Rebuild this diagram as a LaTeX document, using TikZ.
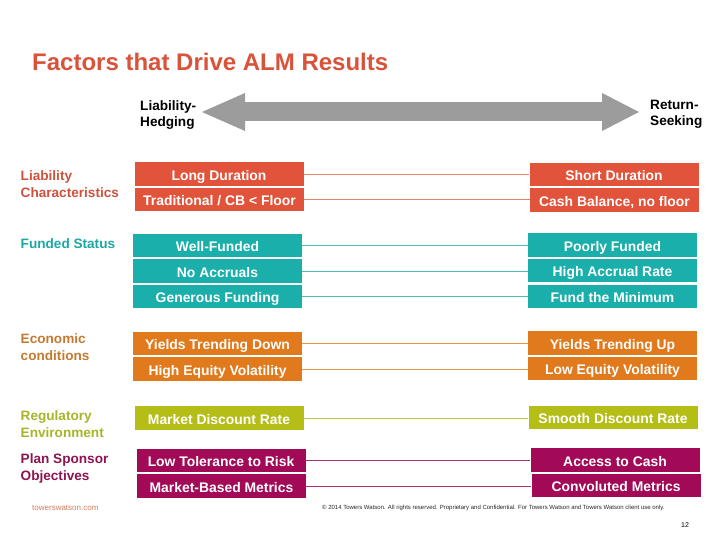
\documentclass[tikz,border=0pt]{standalone}
\usepackage{fontspec}
\setsansfont{Liberation Sans}
\usepackage{xcolor}
\usetikzlibrary{arrows.meta, positioning}

\definecolor{twtitle}{HTML}{D9533B}
\definecolor{twred}{HTML}{E1533A}
\definecolor{twredtxt}{HTML}{CC523D}
\definecolor{twteal}{HTML}{1AAFAA}
\definecolor{twtealtxt}{HTML}{1BA8A3}
\definecolor{tworange}{HTML}{E07A1D}
\definecolor{tworangetxt}{HTML}{C47A30}
\definecolor{twolive}{HTML}{B4BE17}
\definecolor{twolivetxt}{HTML}{A7B42A}
\definecolor{twplum}{HTML}{A20A58}
\definecolor{twplumtxt}{HTML}{8D1451}
\definecolor{twgray}{HTML}{9C9C9C}
\definecolor{twweb}{HTML}{CF7D5E}

\begin{document}
\begin{tikzpicture}[
  x=1pt, y=-1pt,
  % Factor boxes (both ends of the scale)
  factor/.style={rectangle, text=white, align=center, inner sep=0pt,
    font=\sffamily\bfseries\fontsize{13.9}{16}\selectfont,
    text height=12.6pt, text depth=0pt,
    minimum width=169pt, minimum height=23.5pt},
  liab/.style={factor, fill=twred},
  fund/.style={factor, fill=twteal},
  econ/.style={factor, fill=tworange},
  regu/.style={factor, fill=twolive},
  spon/.style={factor, fill=twplum},
  % Thin connector between the two ends
  link/.style={line width=0.9pt},
  % Category labels on the left
  cat/.style={anchor=north west, align=left, inner sep=0pt,
    font=\sffamily\bfseries\fontsize{13.6}{17}\selectfont},
  % End labels of the scale
  endlbl/.style={anchor=north west, align=left, inner sep=0pt,
    font=\sffamily\bfseries\fontsize{13.6}{16}\selectfont},
  % Big grey double arrow
  scalearr/.style={draw=twgray, line width=19pt,
    {Triangle[length=43pt, width=38pt, line width=0pt]}-{Triangle[length=37pt, width=38pt, line width=0pt]}}
]
\useasboundingbox (0,0) rectangle (720,540);

%% Title
\node[anchor=base west, inner sep=0pt, text=twtitle,
  font=\sffamily\bfseries\fontsize{24}{28}\selectfont] (title) at (32,71)
  {Factors that Drive ALM Results};

%% Scale arrow and its two ends
\node[endlbl] (hedging) at (140,100) {Liability-\\Hedging};
\node[endlbl] (seeking) at (650,100) {Return-\\Seeking};
\coordinate (arrL) at (202,112);
\coordinate (arrR) at (639,112);
\draw[scalearr] (arrL) -- (arrR);

%% Category labels
\node[cat, text=twredtxt]    (catliab) at (20.5,170) {Liability\\Characteristics};
\node[cat, text=twtealtxt]   (catfund) at (20.5,238) {Funded Status};
\node[cat, text=tworangetxt] (catecon) at (20.5,333) {Economic\\conditions};
\node[cat, text=twolivetxt]  (catregu) at (20.5,410) {Regulatory\\Environment};
\node[cat, text=twplumtxt]   (catspon) at (20.5,453) {Plan Sponsor\\Objectives};

%% Hedging side
\node[liab] (ld)  at (219,174)     {Long Duration};
\node[liab] (tcb) at (219.5,199.5) {Traditional / CB < Floor};
\node[fund] (wf)  at (217.5,245.5) {Well-Funded};
\node[fund] (na)  at (217.5,271)   {No Accruals};
\node[fund] (gf)  at (217.5,296.5) {Generous Funding};
\node[econ] (ytd) at (217.5,343.5) {Yields Trending Down};
\node[econ] (hev) at (217.5,369)   {High Equity Volatility};
\node[regu] (mdr) at (219,418)     {Market Discount Rate};
\node[spon] (ltr) at (221,460.5)   {Low Tolerance to Risk};
\node[spon] (mbm) at (221.5,486)   {Market-Based Metrics};

%% Return-seeking side
\node[liab] (sd)  at (614,174.5)   {Short Duration};
\node[liab] (cb)  at (614.5,200)   {Cash Balance, no floor};
\node[fund] (pf)  at (612.5,245)   {Poorly Funded};
\node[fund] (har) at (612.5,270.5) {High Accrual Rate};
\node[fund] (fm)  at (612.5,296.5) {Fund the Minimum};
\node[econ] (ytu) at (612.5,343)   {Yields Trending Up};
\node[econ] (lev) at (612.5,368.5) {Low Equity Volatility};
\node[regu] (sdr) at (613,417.5)   {Smooth Discount Rate};
\node[spon] (atc) at (615,460)     {Access to Cash};
\node[spon] (cm)  at (616,485.5)   {Convoluted Metrics};

%% Connectors
% Liability characteristics
\draw[link, draw=twred!75]    (ld.east)  -- (ld.east -| sd.west);
\draw[link, draw=twred!75]    (tcb.east) -- (tcb.east -| cb.west);
% Funded status
\draw[link, draw=twteal!80]   (wf.east)  -- (wf.east -| pf.west);
\draw[link, draw=twteal!80]   (na.east)  -- (na.east -| har.west);
\draw[link, draw=twteal!80]   (gf.east)  -- (gf.east -| fm.west);
% Economic conditions
\draw[link, draw=tworange!80] (ytd.east) -- (ytd.east -| ytu.west);
\draw[link, draw=tworange!80] (hev.east) -- (hev.east -| lev.west);
% Regulatory environment
\draw[link, draw=twolive!85]  (mdr.east) -- (mdr.east -| sdr.west);
% Plan sponsor objectives
\draw[link, draw=twplum!85]   (ltr.east) -- (ltr.east -| atc.west);
\draw[link, draw=twplum!85]   (mbm.east) -- (mbm.east -| cm.west);

%% Footer
\node[anchor=west, inner sep=0pt, text=twweb,
  font=\sffamily\fontsize{8}{9}\selectfont] (web) at (32,508) {towerswatson.com};
\node[anchor=west, inner sep=0pt, text=black!85,
  font=\sffamily\fontsize{6}{7}\selectfont] (copy) at (322,508)
  {© 2014 Towers Watson. All rights reserved. Proprietary and Confidential. For Towers Watson and Towers Watson client use only.};
\node[inner sep=0pt, font=\sffamily\fontsize{7}{8}\selectfont] (page) at (685,525) {12};

\end{tikzpicture}
\end{document}
